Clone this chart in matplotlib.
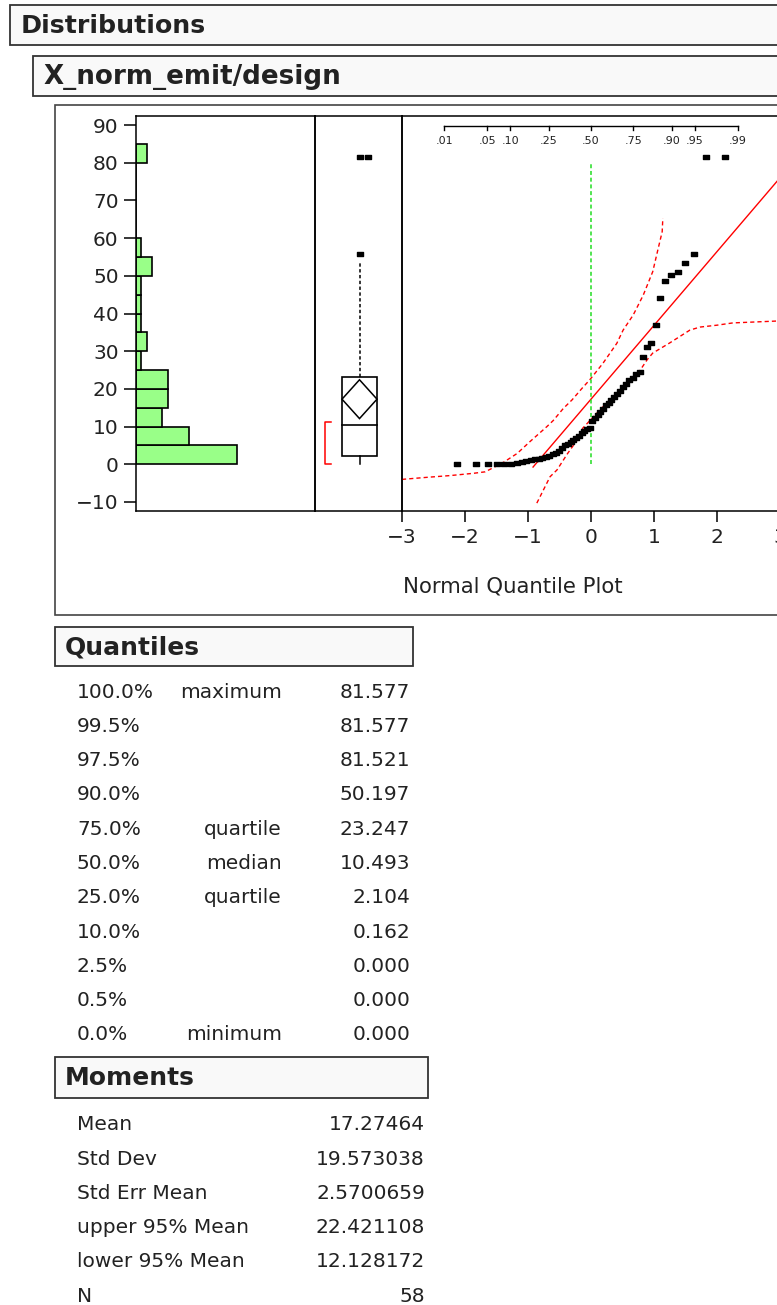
import numpy as np
import matplotlib
matplotlib.use("Agg")
import matplotlib.pyplot as plt
from matplotlib.patches import Rectangle, Polygon
from matplotlib.path import Path
from matplotlib.transforms import blended_transform_factory
from statistics import NormalDist

# ---------------- data ----------------
values = [0.0, 0.0, 0.0, 0.0, 0.0, 0.18, 0.35, 0.6, 0.9, 1.1, 1.3, 1.5, 1.7, 2.0, 2.14,
          2.6, 3.0, 3.6, 4.3, 5.0, 5.5, 6.0, 6.5, 7.0, 7.6, 8.2, 8.9, 9.3, 9.5,
          11.486, 12.3, 13.0, 13.8, 14.6, 15.6, 16.3, 17.0, 17.8, 18.7, 19.4,
          20.6, 21.4, 22.3, 22.99, 24.02, 24.6, 28.5, 31.0, 32.1, 36.9, 44.0, 48.5,
          50.1, 51.07, 53.3, 55.8, 81.459, 81.577]

q_pct = ["100.0%", "99.5%", "97.5%", "90.0%", "75.0%", "50.0%", "25.0%", "10.0%", "2.5%", "0.5%", "0.0%"]
q_name = ["maximum", "", "", "", "quartile", "median", "quartile", "", "", "", "minimum"]
q_val = [81.577, 81.577, 81.521, 50.197, 23.247, 10.493, 2.104, 0.162, 0.000, 0.000, 0.000]

m_name = ["Mean", "Std Dev", "Std Err Mean", "upper 95% Mean", "lower 95% Mean", "N"]
m_val = [17.27464, 19.573038, 2.5700659, 22.421108, 12.128172, 58]

shortest_half = [0.0, 11.1]

# confidence bands (z, value)
upper_band_z = [-3.0, -2.56, -2.24, -1.87, -1.68, -1.40, -1.17, -0.97, -0.70, -0.60, -0.44,
                -0.30, -0.14, -0.02, 0.19, 0.41, 0.51, 0.67, 0.83, 0.98, 1.06, 1.13, 1.14]
upper_band_v = [-4.0, -3.4, -3.0, -2.4, -2.0, 0.4, 2.9, 6.0, 10.0, 11.6, 14.8,
                17.1, 20.2, 22.4, 26.8, 32.1, 35.6, 39.6, 44.9, 51.1, 56.8, 61.7, 65.3]
lower_band_z = [-0.86, -0.65, -0.54, -0.37, -0.22, -0.13, 0.14, 0.41, 0.75, 0.89, 0.98,
                1.25, 1.57, 1.73, 2.0, 2.25, 2.95, 3.5]
lower_band_v = [-10.3, -3.3, -1.5, 2.9, 6.4, 9.6, 14.4, 18.9, 24.2, 27.7, 29.5,
                32.2, 35.6, 36.4, 36.9, 37.5, 38.0, 38.3]

prob_ticks = [0.01, 0.05, 0.10, 0.25, 0.50, 0.75, 0.90, 0.95, 0.99]
prob_labels = [".01", ".05", ".10", ".25", ".50", ".75", ".90", ".95", ".99"]
bin_edges = list(range(0, 90, 5))
y_ticks = list(range(-10, 91, 10))
z_ticks = list(range(-3, 4))

# ---------------- layout ----------------
W, H = 777, 1305
fig = plt.figure(figsize=(W / 100, H / 100), dpi=100)
fig.patch.set_facecolor("white")
TXT = "#222222"
plt.rcParams["font.family"] = ["DejaVu Sans"]


def fx(x):
    return x / W


def fy(y):
    return 1 - y / H


def axes_px(x0, y0, x1, y1):
    ax = fig.add_axes([x0 / W, 1 - y1 / H, (x1 - x0) / W, (y1 - y0) / H])
    ax.set_zorder(2)
    ax.patch.set_alpha(0)
    return ax


def box_px(x0, y0, x1, y1, fc="#f9f9f9", ec="#333333", lw=1.3):
    fig.patches.append(Rectangle((fx(x0), fy(y1)), (x1 - x0) / W, (y1 - y0) / H,
                                 transform=fig.transFigure, fc=fc, ec=ec, lw=lw, zorder=-1))


# header boxes
box_px(10, 5, 820, 45)
fig.text(fx(21), fy(26), "Distributions", fontsize=18.2, fontweight="bold", color=TXT, va="center", ha="left")
box_px(33, 56, 820, 96)
fig.text(fx(43), fy(77), "X_norm_emit/design", fontsize=18.8, fontweight="bold", color=TXT, va="center", ha="left")
box_px(55, 105, 820, 615, fc="white", ec="#444444", lw=1.2)

YLIM = (-12.39, 92.39)
AX_TOP, AX_BOT = 116, 511

# ---- histogram ----
axh = axes_px(136, AX_TOP, 315, AX_BOT)
axh.hist(values, bins=bin_edges, orientation="horizontal", color="#99ff88",
         edgecolor="black", linewidth=1.2)
axh.set_xlim(0, 33.8)
axh.set_ylim(*YLIM)
axh.set_xticks([])
axh.set_yticks(y_ticks)
axh.tick_params(axis="y", length=9, width=1.1, pad=3.5, labelsize=14.5, labelcolor=TXT)
for s in axh.spines.values():
    s.set_linewidth(1.1)

# ---- box plot ----
axb = axes_px(315, AX_TOP, 402, AX_BOT)
axb.set_xlim(0, 87)
axb.set_ylim(*YLIM)
axb.set_xticks([])
axb.set_yticks([])
for s in axb.spines.values():
    s.set_linewidth(1.1)

vals = np.array(values)
q1, med, q3 = q_val[6], q_val[5], q_val[4]
mean, up95, lo95 = m_val[0], m_val[3], m_val[4]
iqr = q3 - q1
hi_fence = q3 + 1.5 * iqr
lo_fence = q1 - 1.5 * iqr
inside = vals[(vals <= hi_fence) & (vals >= lo_fence)]
outliers = vals[(vals > hi_fence) | (vals < lo_fence)]
bx0, bx1 = 27, 62
cx = (bx0 + bx1) / 2
axb.add_patch(Rectangle((bx0, q1), bx1 - bx0, q3 - q1, fill=False, ec="black", lw=1.2))
axb.plot([bx0, bx1], [med, med], color="black", lw=1.2)
axb.add_patch(Polygon([(bx0, mean), (cx, up95), (bx1, mean), (cx, lo95)], closed=True,
                      fill=False, ec="black", lw=1.1))
axb.plot([cx, cx], [q3, inside.max()], color="black", lw=1.1, ls=(0, (2.2, 1.6)))
axb.plot([cx, cx], [q1, inside.min()], color="black", lw=1.1)

rect_marker = Path([(-1, -0.6), (1, -0.6), (1, 0.6), (-1, 0.6), (-1, -0.6)],
                   [Path.MOVETO, Path.LINETO, Path.LINETO, Path.LINETO, Path.CLOSEPOLY])
prev = None
ox = cx
for o in np.sort(outliers):
    ox = ox + 8 if (prev is not None and abs(o - prev) < 1.0) else cx
    axb.plot([ox], [o], ls="none", marker=rect_marker, ms=4, color="black")
    prev = o
# shortest half bracket
sh0, sh1 = shortest_half
axb.plot([16, 9.5, 9.5, 16], [sh0, sh0, sh1, sh1], color="red", lw=1.1)

# ---- normal quantile plot ----
ZMIN, ZMAX = -3, 3.5
axq = axes_px(402, AX_TOP, 402 + 63 * (ZMAX - ZMIN), AX_BOT)
axq.set_xlim(ZMIN, ZMAX)
axq.set_ylim(*YLIM)
axq.set_yticks([])
axq.set_xticks(z_ticks)
axq.tick_params(axis="x", length=8, width=1.1, pad=4, labelsize=14.5, labelcolor=TXT)
for s in axq.spines.values():
    s.set_linewidth(1.1)

nd = NormalDist()
n = len(values)
sv = np.sort(vals)
zq = [nd.inv_cdf(i / (n + 1)) for i in range(1, n + 1)]

axq.plot(upper_band_z, upper_band_v, color="red", lw=1.0, ls=(0, (3, 2.2)))
axq.plot(lower_band_z, lower_band_v, color="red", lw=1.0, ls=(0, (3, 2.2)))
sd = m_val[1]
z0 = (-0.73 - mean) / sd
axq.plot([z0, ZMAX], [mean + sd * z0, mean + sd * ZMAX], color="red", lw=1.0)
axq.plot([0, 0], [0, 80], color="#22dd22", lw=1.1, ls=(0, (2.6, 1.8)))
axq.plot(zq, sv, ls="none", marker=rect_marker, ms=4, color="black")

# probability axis at top
tr = blended_transform_factory(axq.transData, axq.transAxes)
pz = [nd.inv_cdf(p) for p in prob_ticks]
yl = (AX_BOT - 125.7) / (AX_BOT - AX_TOP)
yt = (AX_BOT - 130.0) / (AX_BOT - AX_TOP)
ylab = (AX_BOT - 141.5) / (AX_BOT - AX_TOP)
axq.plot([pz[0], pz[-1]], [yl, yl], color="black", lw=1.0, transform=tr)
for zz, lab in zip(pz, prob_labels):
    axq.plot([zz, zz], [yl, yt], color="black", lw=1.0, transform=tr)
    axq.text(zz, ylab, lab, transform=tr, ha="center", va="center", fontsize=8, color=TXT)

fig.text(fx(403), fy(586), "Normal Quantile Plot", fontsize=15.3, color=TXT, ha="left", va="center")

# ---------------- Quantiles table ----------------
box_px(55, 627, 413, 666)
fig.text(fx(65), fy(647), "Quantiles", fontsize=18, fontweight="bold", color=TXT, va="center")
for i, (p, nm, v) in enumerate(zip(q_pct, q_name, q_val)):
    y = 692 + i * 34.3
    fig.text(fx(77), fy(y), p, fontsize=14.5, color=TXT, va="center", ha="left")
    if nm:
        fig.text(fx(282), fy(y), nm, fontsize=14.5, color=TXT, va="center", ha="right")
    fig.text(fx(410), fy(y), f"{v:.3f}", fontsize=14.5, color=TXT, va="center", ha="right")

# ---------------- Moments table ----------------
box_px(55, 1057, 428, 1098)
fig.text(fx(65), fy(1078), "Moments", fontsize=18, fontweight="bold", color=TXT, va="center")
for i, (nm, v) in enumerate(zip(m_name, m_val)):
    y = 1125 + i * 34.2
    fig.text(fx(77), fy(y), nm, fontsize=14.5, color=TXT, va="center", ha="left")
    fig.text(fx(425), fy(y), str(v), fontsize=14.5, color=TXT, va="center", ha="right")

fig.savefig("out.png", dpi=100)
